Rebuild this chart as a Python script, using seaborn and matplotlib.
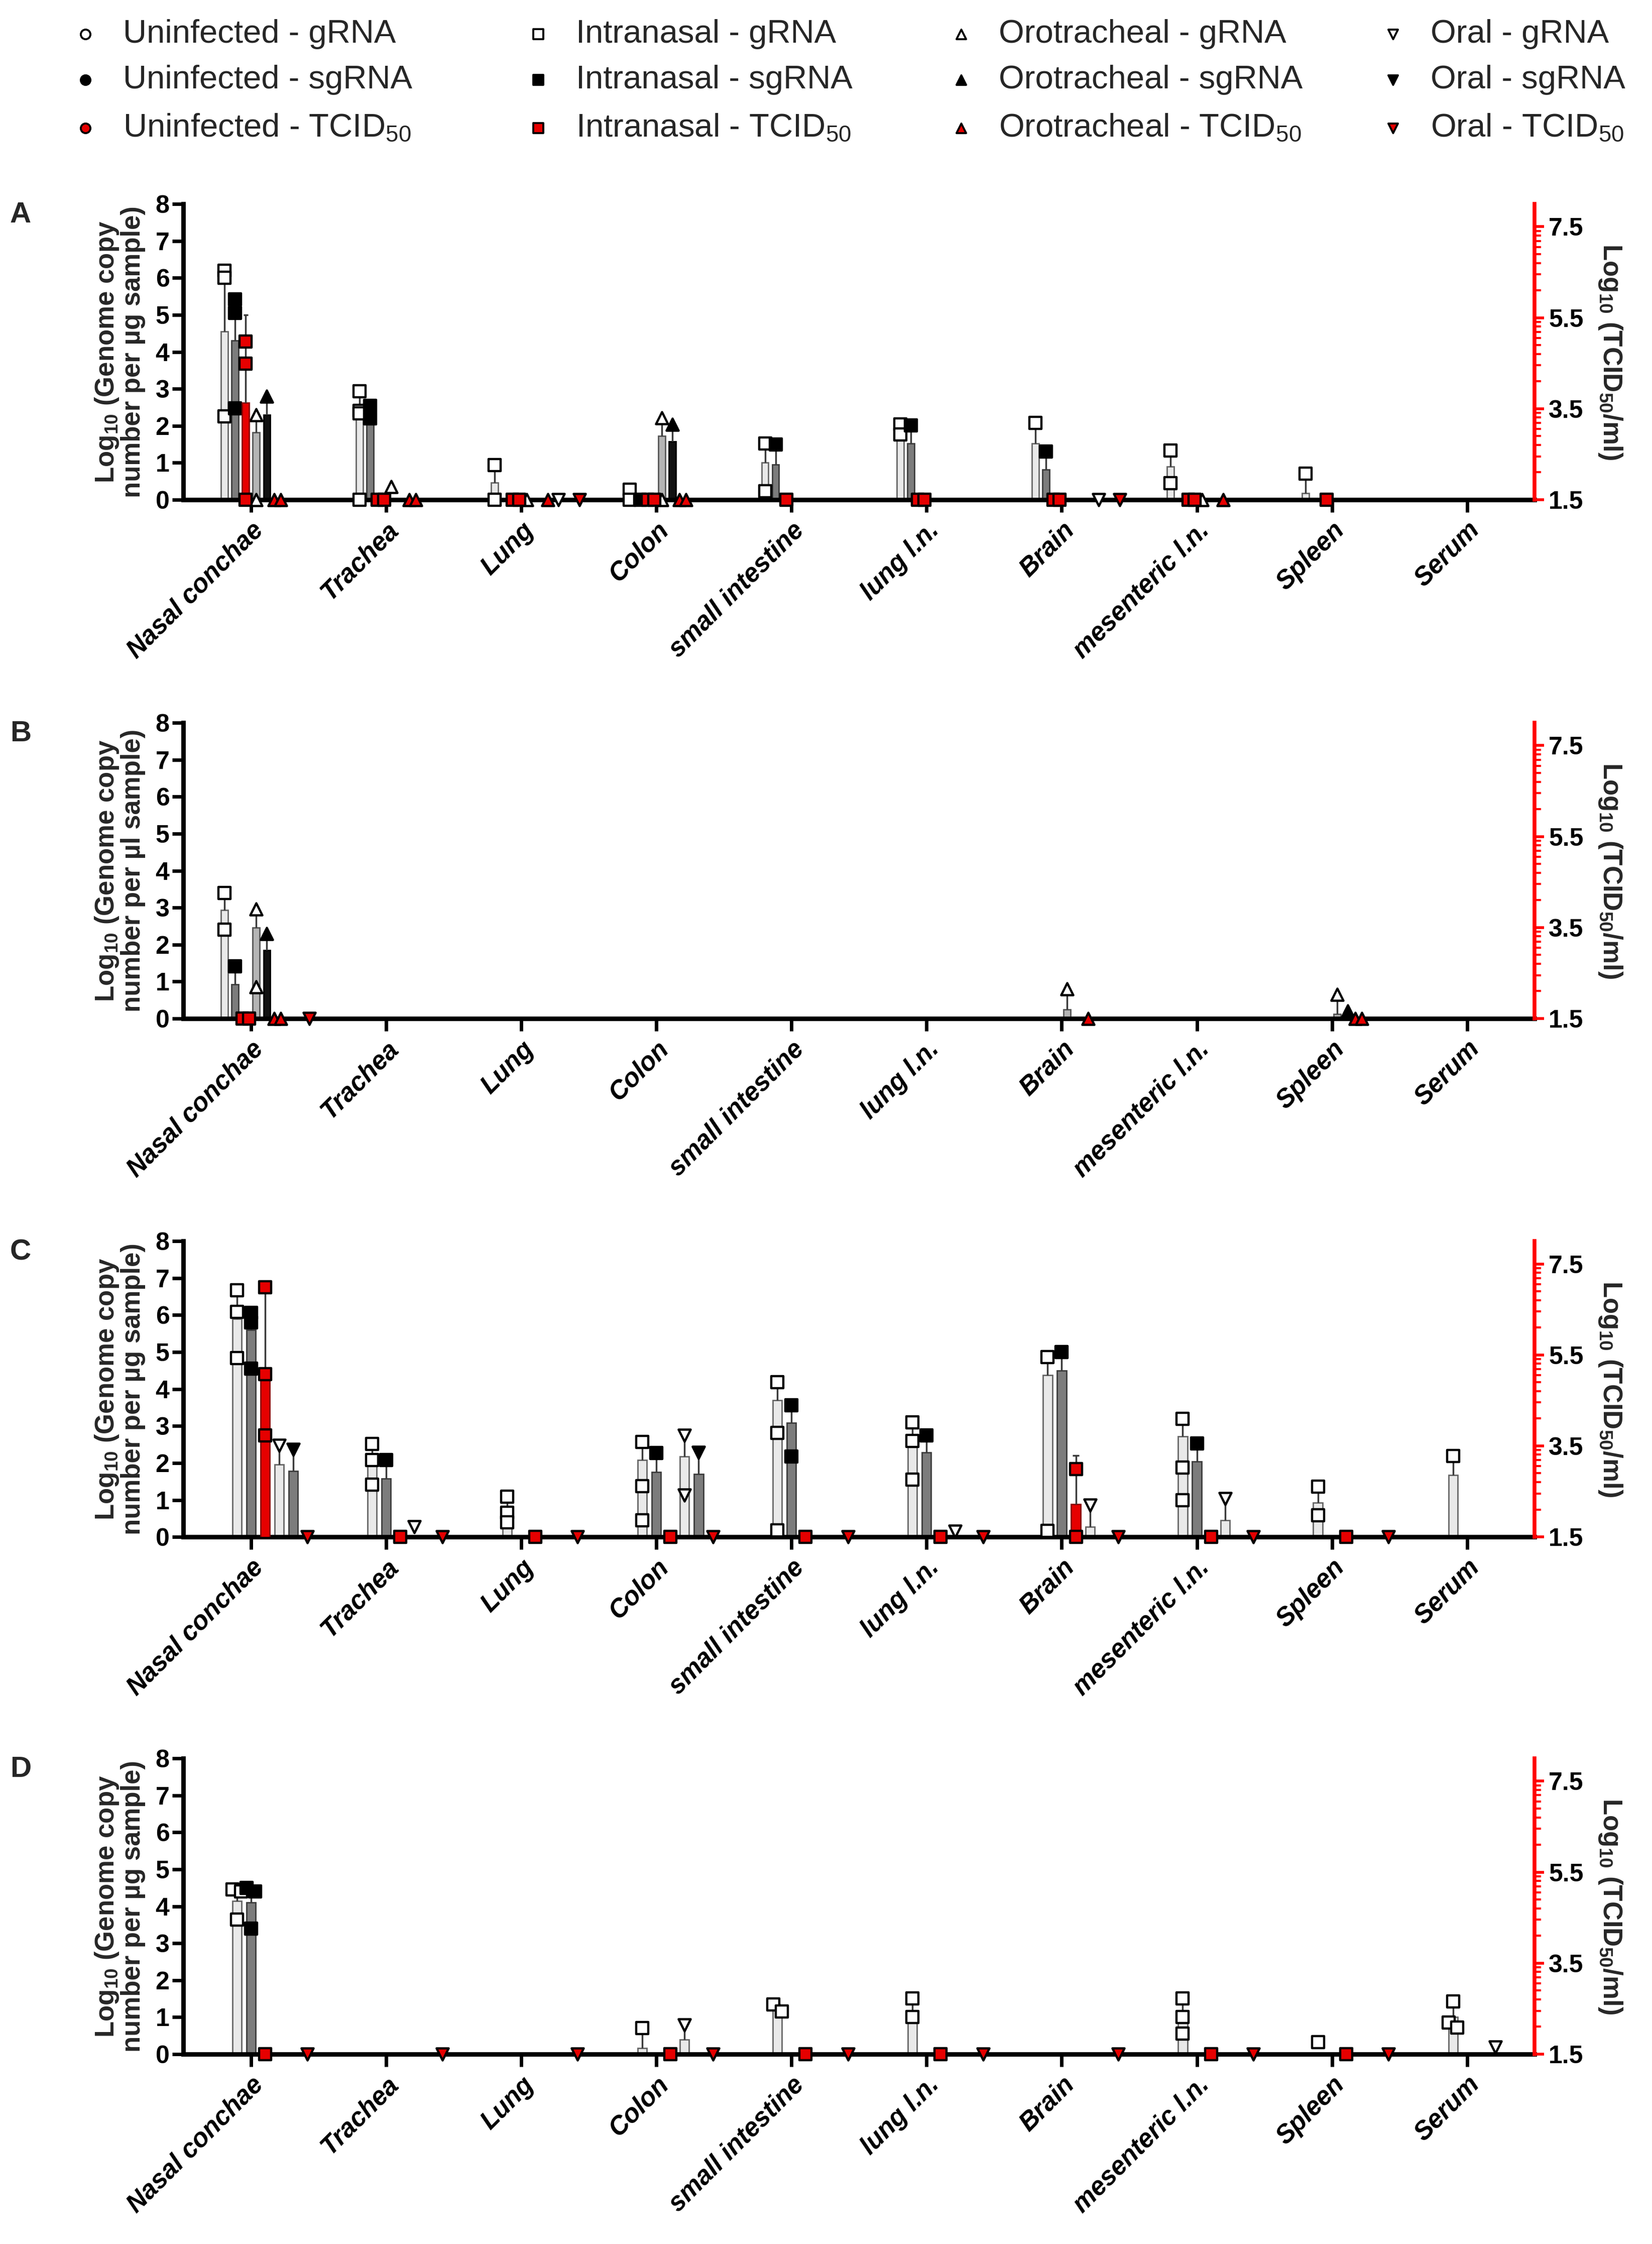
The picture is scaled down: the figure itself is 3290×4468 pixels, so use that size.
import numpy as np
import pandas as pd
import matplotlib
matplotlib.use('Agg')
import matplotlib.pyplot as plt
from matplotlib.colors import to_hex
import seaborn as sns

sns.set_theme(style='white')
plt.rcParams['font.family'] = ['Liberation Sans', 'DejaVu Sans']
plt.rcParams['mathtext.fontset'] = 'custom'
plt.rcParams['mathtext.rm'] = 'Liberation Sans'
plt.rcParams['mathtext.bf'] = 'Liberation Sans:bold'
plt.rcParams['mathtext.it'] = 'Liberation Sans:italic'

organs = ['Nasal conchae', 'Trachea', 'Lung', 'Colon', 'small intestine',
          'lung l.n.', 'Brain', 'mesenteric l.n.', 'Spleen', 'Serum']

# series codes: route _ measure (g = gRNA, sg = sgRNA, T = TCID50)
series_12 = ['U_g', 'U_sg', 'U_T', 'IN_g', 'IN_sg', 'IN_T',
             'OT_g', 'OT_sg', 'OT_T', 'OR_g', 'OR_sg', 'OR_T']
series_9 = ['U_g', 'U_sg', 'U_T', 'IN_g', 'IN_sg', 'IN_T', 'OR_g', 'OR_sg', 'OR_T']

legend_labels = ['Uninfected - gRNA', 'Uninfected - sgRNA', 'Uninfected - TCID$_{50}$',
                 'Intranasal - gRNA', 'Intranasal - sgRNA', 'Intranasal - TCID$_{50}$',
                 'Orotracheal - gRNA', 'Orotracheal - sgRNA', 'Orotracheal - TCID$_{50}$',
                 'Oral - gRNA', 'Oral - sgRNA', 'Oral - TCID$_{50}$']

# ---- panel A (genome copies: left axis, TCID50: right axis) ----
A_mean = {
    'IN_g':  [4.55, 2.3, 0.46, 0.1, 1.0, 1.7, 1.52, 0.9, 0.18, 0],
    'IN_sg': [4.3, 2.1, 0, 0, 0.95, 1.52, 0.81, 0, 0, 0],
    'IN_T':  [3.63, 0, 0, 0, 0, 0, 0, 0, 0, 0],
    'OT_g':  [1.82, 0, 0, 1.72, 0, 0, 0, 0, 0, 0],
    'OT_sg': [2.3, 0, 0, 1.58, 0, 0, 0, 0, 0, 0],
}
A_err = {
    'IN_g':  [1.75, 0.6, 0.47, 0.17, 0.52, 0.35, 0.56, 0.43, 0.52, 0],
    'IN_sg': [0.8, 0.4, 0, 0, 0.54, 0.49, 0.5, 0, 0, 0],
    'IN_T':  [1.93, 0, 0, 0, 0, 0, 0, 0, 0, 0],
    'OT_g':  [0.5, 0, 0, 0.5, 0, 0, 0, 0, 0, 0],
    'OT_sg': [0.5, 0, 0, 0.46, 0, 0, 0, 0, 0, 0],
}
A_pts = {
    'IN_g':  [[6.2, 6.0, 2.25], [2.94, 2.4, 2.34, 0], [0.94, 0], [0.27, 0], [1.52, 0.23],
              [2.04, 1.77], [2.08], [1.33, 0.45], [0.7], []],
    'IN_sg': [[5.42, 5.06, 2.47], [2.54, 2.2], [], [0], [1.49], [2.01], [1.31], [], [], []],
    'IN_T':  [[4.98, 4.49, 1.5], [1.5, 1.5], [1.5, 1.5], [1.5, 1.5], [1.5], [1.5, 1.5],
              [1.5, 1.5], [1.5, 1.5], [1.5], []],
    'OT_g':  [[2.3, 0], [0.35], [0], [2.22, 0], [], [], [], [0], [], []],
    'OT_sg': [[2.8], [], [], [2.04], [], [], [], [], [], []],
    'OT_T':  [[1.5, 1.5], [1.5, 1.5], [1.5], [1.5, 1.5], [], [], [], [1.5], [], []],
    'OR_g':  [[], [], [0], [], [], [], [0], [], [], []],
    'OR_T':  [[], [], [1.5], [], [], [], [1.5], [], [], []],
}

# ---- panel B ----
B_mean = {
    'IN_g':  [2.93, 0, 0, 0, 0, 0, 0, 0, 0, 0],
    'IN_sg': [0.92, 0, 0, 0, 0, 0, 0, 0, 0, 0],
    'OT_g':  [2.46, 0, 0, 0, 0, 0, 0.25, 0, 0.12, 0],
    'OT_sg': [1.85, 0, 0, 0, 0, 0, 0, 0, 0.05, 0],
}
B_err = {
    'IN_g':  [0.46, 0, 0, 0, 0, 0, 0, 0, 0, 0],
    'IN_sg': [0.49, 0, 0, 0, 0, 0, 0, 0, 0, 0],
    'OT_g':  [0.5, 0, 0, 0, 0, 0, 0.55, 0, 0.53, 0],
    'OT_sg': [0.44, 0, 0, 0, 0, 0, 0, 0, 0.15, 0],
}
B_pts = {
    'IN_g':  [[3.39, 2.4], [], [], [], [], [], [], [], [], []],
    'IN_sg': [[1.41], [], [], [], [], [], [], [], [], []],
    'IN_T':  [[1.5, 1.5], [], [], [], [], [], [], [], [], []],
    'OT_g':  [[2.96, 0.86], [], [], [], [], [], [0.8], [], [0.65], []],
    'OT_sg': [[2.29], [], [], [], [], [], [], [], [0.2], []],
    'OT_T':  [[1.5, 1.5], [], [], [], [], [], [1.5], [], [1.5, 1.5], []],
    'OR_T':  [[1.5], [], [], [], [], [], [], [], [], []],
}

# ---- panel C ----
C_mean = {
    'IN_g':  [5.9, 2.0, 0.7, 2.08, 3.7, 2.68, 4.37, 2.72, 0.93, 1.67],
    'IN_sg': [5.6, 1.58, 0, 1.75, 3.09, 2.28, 4.5, 2.04, 0, 0],
    'IN_T':  [5.2, 0, 0, 0, 0, 0, 2.22, 0, 0, 0],
    'OR_g':  [1.96, 0, 0, 2.18, 0, 0, 0.28, 0.45, 0, 0],
    'OR_sg': [1.78, 0, 0, 1.7, 0, 0, 0, 0, 0, 0],
}
C_err = {
    'IN_g':  [0.8, 0.5, 0.4, 0.49, 0.5, 0.42, 0.49, 0.47, 0.43, 0.52],
    'IN_sg': [0.5, 0.5, 0, 0.52, 0.47, 0.47, 0.5, 0.49, 0, 0],
    'IN_T':  [1.79, 0, 0, 0, 0, 0, 1.07, 0, 0, 0],
    'OR_g':  [0.52, 0, 0, 0.57, 0, 0, 0.58, 0.58, 0, 0],
    'OR_sg': [0.59, 0, 0, 0.58, 0, 0, 0, 0, 0, 0],
}
C_pts = {
    'IN_g':  [[6.67, 6.09, 4.84], [2.51, 2.08, 1.41], [1.09, 0.65, 0.39], [2.57, 1.38, 0.45],
              [4.19, 2.82, 0.18], [3.1, 2.6, 1.55], [4.86, 0.16], [3.19, 1.87, 0.99],
              [1.36, 0.59], [2.19]],
    'IN_sg': [[6.06, 5.8, 4.55], [2.08], [], [2.27], [3.56, 2.18], [2.75], [5.0], [2.53], [], []],
    'IN_T':  [[6.99, 5.08, 3.73], [1.5], [1.5], [1.5], [1.5], [1.5], [2.99, 1.5], [1.5], [1.5], []],
    'OR_g':  [[2.48], [0.27], [], [2.75, 1.13], [], [0.15], [0.86], [1.03], [], []],
    'OR_sg': [[2.37], [], [], [2.28], [], [], [], [], [], []],
    'OR_T':  [[1.5], [1.5], [1.5], [1.5], [1.5], [1.5], [1.5], [1.5], [1.5], []],
}

# ---- panel D ----
D_mean = {
    'IN_g':  [4.15, 0, 0, 0.16, 1.2, 1.1, 0, 1.02, 0, 1.0],
    'IN_sg': [4.1, 0, 0, 0, 0, 0, 0, 0, 0, 0],
    'OR_g':  [0, 0, 0, 0.4, 0, 0, 0, 0, 0, 0],
}
D_err = {
    'IN_g':  [0.3, 0, 0, 0.54, 0.15, 0.4, 0, 0.49, 0, 0.45],
    'IN_sg': [0.4, 0, 0, 0, 0, 0, 0, 0, 0, 0],
    'OR_g':  [0, 0, 0, 0.39, 0, 0, 0, 0, 0, 0],
}
D_pts = {
    'IN_g':  [[4.45, 4.4, 3.64], [], [], [0.7], [1.35, 1.15], [1.51, 1.0], [],
              [1.51, 1.0, 0.56], [0.33], [1.42, 0.86, 0.72]],
    'IN_sg': [[4.5, 4.4, 3.4], [], [], [], [], [], [], [], [], []],
    'IN_T':  [[1.5], [], [], [1.5], [1.5], [1.5], [], [1.5], [1.5], []],
    'OR_g':  [[], [], [], [0.79], [], [], [], [], [], [0.19]],
    'OR_T':  [[1.5], [1.5], [1.5], [1.5], [1.5], [1.5], [1.5], [1.5], [1.5], []],
}

# ---- styles ----
bar_face = {'U_g': '#ffffff', 'U_sg': '#000000', 'U_T': '#e60000',
            'IN_g': '#e9e9e9', 'IN_sg': '#7c7c7c', 'IN_T': '#e60000',
            'OT_g': '#b4b4b4', 'OT_sg': '#111111', 'OT_T': '#e60000',
            'OR_g': '#e9e9e9', 'OR_sg': '#7c7c7c', 'OR_T': '#e60000'}
edge_by_face = {'#ffffff': '#6e6e6e', '#000000': '#000000', '#e60000': '#8b0000',
                '#e9e9e9': '#666666', '#7c7c7c': '#3c3c3c', '#b4b4b4': '#555555',
                '#111111': '#000000'}
route_marker = {'U': 'o', 'IN': 's', 'OT': '^', 'OR': 'v'}
meas_face = {'g': 'white', 'sg': 'black', 'T': '#e60000'}

GROUP_W = 0.94
LEFT_MAX = 8.0
R_LOW, R_HIGH = 1.5, 8.0


def spread(vals, slot):
    offs = np.zeros(len(vals))
    keys = np.round(np.array(vals, dtype=float) / 0.25)
    for key in np.unique(keys):
        idx = np.where(keys == key)[0]
        if len(idx) > 1:
            offs[idx] = np.linspace(-0.3, 0.3, len(idx)) * slot
    return offs


def draw_panel(ax, series, means, errs, pts, ylabel):
    n = len(series)
    slot = GROUP_W / n
    ax2 = ax.twinx()

    rows_l, rows_r = [], []
    for s, vals in means.items():
        for organ, v in zip(organs, vals):
            if s.endswith('_T'):
                if v > R_LOW:
                    rows_r.append((organ, s, v))
            elif v > 0:
                rows_l.append((organ, s, v))
    for target, rows in ((ax2, rows_r), (ax, rows_l)):
        if rows:
            df = pd.DataFrame(rows, columns=['organ', 'series', 'value'])
            sns.barplot(data=df, x='organ', y='value', hue='series', order=organs,
                        hue_order=series, palette=bar_face, width=GROUP_W, gap=0.35,
                        dodge=True, errorbar=None, legend=False, saturation=1,
                        linewidth=2, ax=target)
            for p in target.patches:
                p.set_edgecolor(edge_by_face.get(to_hex(p.get_facecolor()), 'black'))

    # error bars (upward only) and individual animals
    for k, s in enumerate(series):
        target = ax2 if s.endswith('_T') else ax
        for i in range(len(organs)):
            x0 = i + (k - (n - 1) / 2) * slot
            if s in means and s in errs:
                m, e = means[s][i], errs[s][i]
                if e > 0 and (m > 0):
                    target.vlines(x0, m, m + e, color='#3a3a3a', lw=2.5, zorder=4)
                    target.hlines(m + e, x0 - 0.22 * slot, x0 + 0.22 * slot,
                                  color='#3a3a3a', lw=2.5, zorder=4)
            if s in pts and pts[s][i]:
                vals = pts[s][i]
                xs = x0 + spread(vals, slot)
                route, meas = s.split('_')
                target.scatter(xs, vals, marker=route_marker[route], s=300,
                               facecolor=meas_face[meas], edgecolor='black',
                               linewidths=3.2, zorder=6, clip_on=False)

    ax.set_xlim(-0.5, len(organs) - 0.5)
    ax.set_ylim(0, LEFT_MAX)
    ax.set_yticks(range(9))
    ax.set_yticklabels([str(v) for v in range(9)], fontsize=36, fontweight='bold')
    ax.set_xticks(range(len(organs)))
    ax.set_xticklabels(organs, rotation=45, ha='right', rotation_mode='anchor',
                       fontsize=37, fontstyle='italic', fontweight='bold')
    ax.set_xlabel('')
    ax.set_ylabel(ylabel, fontsize=38, fontweight='bold', linespacing=1.0)
    ax.yaxis.set_label_coords(-0.028, 0.5)
    ax.tick_params(axis='y', direction='out', length=16, width=5, pad=4, colors='black',
                   left=True)
    ax.tick_params(axis='x', direction='out', length=18, width=5, pad=8, colors='black',
                   bottom=True)
    for side in ('top', 'right'):
        ax.spines[side].set_visible(False)
    for side in ('left', 'bottom'):
        ax.spines[side].set_linewidth(6.5)
        ax.spines[side].set_color('black')

    ax2.set_ylim(R_LOW, R_HIGH)
    ax2.set_yticks([1.5, 3.5, 5.5, 7.5])
    ax2.set_yticklabels(['1.5', '3.5', '5.5', '7.5'], fontsize=36, fontweight='bold')
    minor = [b + 2 * np.log10(m) for b in (1.5, 3.5, 5.5) for m in range(2, 10)]
    ax2.set_yticks(minor, minor=True)
    ax2.tick_params(axis='y', which='major', direction='out', length=14, width=4,
                    color='red', labelcolor='black', pad=6, right=True)
    ax2.tick_params(axis='y', which='minor', direction='out', length=9, width=3,
                    color='red', right=True)
    ax2.set_xlabel('')
    ax2.set_ylabel('Log$_{\\mathbf{10}}$ (TCID$_{\\mathbf{50}}$/ml)', fontsize=38,
                   fontweight='bold', rotation=270, va='bottom')
    ax2.yaxis.set_label_coords(1.046, 0.5)
    for side in ('top', 'left', 'bottom'):
        ax2.spines[side].set_visible(False)
    ax2.spines['right'].set_linewidth(5.5)
    ax2.spines['right'].set_color('red')
    ax2.set_xlim(-0.5, len(organs) - 0.5)
    ax.set_zorder(1)
    ax2.set_zorder(2)
    ax.patch.set_visible(False)
    ax2.patch.set_visible(False)


W, H = 3290, 4468
fig = plt.figure(figsize=(W / 100, H / 100), dpi=100)

ylab_ug = 'Log$_{\\mathbf{10}}$ (Genome copy\nnumber per µg sample)'
ylab_ul = 'Log$_{\\mathbf{10}}$ (Genome copy\nnumber per µl sample)'

panels = [
    ('A', 0.7773, series_12, A_mean, A_err, A_pts, ylab_ug),
    ('B', 0.5461, series_12, B_mean, B_err, B_pts, ylab_ul),
    ('C', 0.3151, series_9, C_mean, C_err, C_pts, ylab_ug),
    ('D', 0.0846, series_9, D_mean, D_err, D_pts, ylab_ug),
]
for letter, bottom, series, means, errs, pts, ylab in panels:
    ax = fig.add_axes([0.111, bottom, 0.818, 0.1318])
    draw_panel(ax, series, means, errs, pts, ylab)
    fig.text(0.006, bottom + 0.1318 - 0.005, letter, fontsize=42, fontweight='bold',
             va='center', ha='left')

# legend: 4 columns (route) x 3 rows (measure), laid out in figure pixels
leg = fig.add_axes([0, 0, 1, 1], zorder=0)
leg.set_xlim(0, W)
leg.set_ylim(H, 0)
leg.axis('off')
leg.patch.set_visible(False)
col_x = [170, 1072, 1914, 2774]
row_y = [68, 159, 255]
for j, s in enumerate(series_12):
    route, meas = s.split('_')
    c, r = j // 3, j % 3
    leg.scatter(col_x[c], row_y[r], marker=route_marker[route], s=190,
                facecolor=meas_face[meas], edgecolor='black', linewidths=2.8)
    leg.text(col_x[c] + 75, row_y[r], legend_labels[j], fontsize=47, va='center', ha='left')

fig.savefig('out.png', dpi=100)
